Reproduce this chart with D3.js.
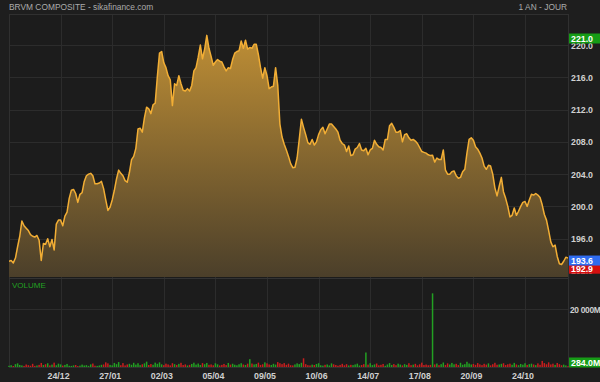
<!DOCTYPE html>
<html><head><meta charset="utf-8">
<script src="https://cdn.jsdelivr.net/npm/d3@7"></script>
<style>
html,body{margin:0;padding:0;background:#1e1e1e;}
svg{display:block;font-family:"Liberation Sans",Arial,sans-serif;}
</style></head>
<body>
<svg id="c" width="600" height="382"></svg>
<script>
const title = "BRVM COMPOSITE - sikafinance.com";
const period = "1 AN - JOUR";
const priceTicks = [192, 196, 200, 204, 208, 212, 216, 220];
const volumeTicks = [20000];
const dateTickIndex = [24, 48, 72, 96, 120, 144, 168, 192, 216, 240];
const dateTickLabels = ["24/12","27/01","02/03","05/04","09/05","10/06","14/07","17/08","20/09","24/10"];
const maxLabel = 221.0;
const lastLabel = 193.6;
const prevLabel = 192.9;
const lastVolumeLabel = "284.0M";

const price = [
193.2,193.3,193.0,193.6,195.0,196.3,198.2,197.6,197.3,197.0,
196.5,196.3,196.2,196.4,195.8,193.3,195.4,195.3,196.0,195.0,
195.9,194.6,197.8,198.3,198.3,197.6,198.8,199.3,201.0,202.0,
202.1,201.6,200.5,201.5,201.7,203.1,203.8,204.0,204.1,203.8,
202.8,202.8,202.9,203.1,202.2,200.8,199.5,199.9,200.8,202.0,
203.4,204.5,204.1,203.8,203.2,203.0,204.2,205.8,206.2,207.2,
209.6,209.7,209.2,211.0,212.3,212.1,211.5,212.6,212.8,216.1,
219.0,219.2,217.8,217.2,216.2,215.7,212.5,215.2,215.0,216.2,
215.2,214.4,214.3,214.6,214.3,215.0,216.8,217.2,218.5,220.0,
218.3,219.5,221.2,219.6,218.6,217.5,217.9,218.2,218.0,217.9,
217.3,216.8,217.2,217.1,218.2,219.0,219.2,219.3,220.5,219.6,
220.6,219.5,219.7,219.6,220.1,220.1,218.8,217.2,215.9,217.2,
216.2,214.6,214.8,214.9,217.2,215.0,210.2,208.6,207.7,207.0,
206.2,205.3,204.8,204.85,206.0,208.3,210.8,209.8,208.9,207.9,
207.7,208.3,207.6,208.0,208.9,209.5,209.8,209.0,209.6,210.2,
210.2,209.9,209.6,209.2,208.2,207.8,207.6,206.8,207.5,206.3,
206.4,207.1,207.3,207.8,207.0,206.9,207.2,206.4,207.0,207.2,
208.2,207.7,207.4,207.3,207.0,208.3,208.3,210.0,210.3,209.8,
209.2,209.2,209.4,208.0,208.9,209.0,208.5,208.2,208.3,208.1,
207.8,207.3,206.8,206.7,206.6,206.4,206.3,206.35,205.5,206.0,
205.8,205.8,207.0,204.5,204.0,204.0,204.3,204.4,203.8,203.5,
203.6,204.3,204.6,206.6,208.3,208.5,208.2,207.4,207.1,206.6,
206.0,205.0,204.6,205.1,205.0,204.0,202.3,201.3,202.5,203.6,
201.8,201.0,200.0,198.7,198.9,199.8,198.9,199.4,200.0,200.5,
200.6,200.0,200.8,201.5,201.4,201.6,201.4,201.1,200.2,199.0,
198.3,197.0,195.6,195.0,195.2,193.8,192.9,192.8,193.2,193.7,
193.6];

const volume = [
420,610,350,980,1250,700,540,380,860,620,450,1100,390,520,740,1400,680,950,1300,560,
820,1500,600,1150,900,480,720,1050,430,380,560,690,310,470,820,520,640,380,900,1200,
450,380,520,760,880,1600,1250,730,560,1400,980,1700,620,1350,540,880,1100,760,1450,820,
1300,650,940,1250,1850,690,1020,780,1500,1100,1600,920,640,1150,880,560,1320,980,720,1080,
1450,680,890,520,740,1050,1480,830,1200,690,1350,960,1400,760,880,600,1280,920,540,730,
1050,660,1400,820,1120,780,580,940,1300,860,700,1150,2700,1200,880,1050,1500,720,940,1600,
1250,880,700,1100,820,1700,1300,980,1350,760,1150,620,540,880,1250,1000,1450,3000,980,620,
540,820,700,1050,1300,600,480,760,880,540,1250,920,680,450,720,1100,600,980,520,750,
640,880,1150,520,700,960,5000,820,1300,640,900,1200,580,760,1050,420,880,1350,700,1000,
620,1150,840,560,980,720,1300,640,800,1100,560,920,1500,680,840,600,740,25400,880,1200,
640,980,1550,700,1250,860,1400,920,1100,660,1450,780,980,1800,1200,880,1050,740,1350,900,
640,1100,820,1250,580,960,1450,780,880,1100,1300,680,940,1150,760,1420,880,620,1050,800,
1300,720,980,1150,880,640,1250,760,2100,1350,940,1600,880,1150,720,1400,980,600,820,540,284];

const svg = d3.select("#c");
const L = 9, R = 568, PT = 14, PB = 277, VT = 279, VB = 367;

const x = d3.scaleLinear().domain([0, price.length - 1]).range([L, R]);
const y = d3.scaleLinear().domain([191.25, 223.85]).range([PB, PT]);
const yv = d3.scaleLinear().domain([0, 20000]).range([VB, 309]);

svg.append("rect").attr("width",600).attr("height",382).attr("fill","#1e1e1e");
svg.append("rect").attr("x",L).attr("y",PT).attr("width",R-L).attr("height",VB-PT).attr("fill","#1c1c1c");

const g = svg.append("g");
g.selectAll(".vg").data(dateTickIndex).join("line")
  .attr("x1",d=>Math.round(x(d))+0.5).attr("x2",d=>Math.round(x(d))+0.5)
  .attr("y1",PT).attr("y2",VB).attr("stroke","#2c2c2c").attr("stroke-width",1);
g.selectAll(".hg").data(priceTicks).join("line")
  .attr("x1",L).attr("x2",R).attr("y1",d=>Math.round(y(d))+0.5).attr("y2",d=>Math.round(y(d))+0.5)
  .attr("stroke","#2c2c2c");
g.selectAll(".vhg").data(volumeTicks).join("line")
  .attr("x1",L).attr("x2",R).attr("y1",d=>Math.round(yv(d))+0.5).attr("y2",d=>Math.round(yv(d))+0.5)
  .attr("stroke","#2c2c2c");

svg.append("rect").attr("x",L+0.5).attr("y",PT+0.5).attr("width",R-L).attr("height",VB-PT)
  .attr("fill","none").attr("stroke","#303030");
svg.append("line").attr("x1",L).attr("x2",R).attr("y1",VT-0.5).attr("y2",VT-0.5).attr("stroke","#333");

const defs = svg.append("defs");
const grad = defs.append("linearGradient").attr("id","ag")
  .attr("gradientUnits","userSpaceOnUse").attr("x1",0).attr("x2",0).attr("y1",y(221.2)).attr("y2",PB);
grad.append("stop").attr("offset","0%").attr("stop-color","#be8e35");
grad.append("stop").attr("offset","100%").attr("stop-color","#4b3f2a");

const clip = defs.append("clipPath").attr("id","pc");
clip.append("rect").attr("x",L).attr("y",PT).attr("width",R-L).attr("height",PB-PT);

const area = d3.area().x((d,i)=>x(i)).y0(PB).y1(d=>y(d));
const line = d3.line().x((d,i)=>x(i)).y(d=>y(d));
const pg = svg.append("g").attr("clip-path","url(#pc)");
pg.append("path").datum(price).attr("d",area).attr("fill","url(#ag)");
pg.append("path").datum(price).attr("d",line).attr("fill","none").attr("stroke","#f2ae35").attr("stroke-width",1.5).attr("stroke-linejoin","round");

svg.append("g").selectAll("rect").data(volume).join("rect")
  .attr("x",(d,i)=>x(i)-0.75).attr("width",1.5)
  .attr("y",d=>yv(d)).attr("height",d=>VB-yv(d))
  .attr("fill",(d,i)=> i>0 && price[i] < price[i-1] ? "#c81e1e" : "#22a022");

svg.append("text").attr("x",9).attr("y",10).attr("fill","#ababab").attr("font-size",8.4).text(title);
svg.append("text").attr("x",567).attr("y",10).attr("text-anchor","end").attr("fill","#ababab").attr("font-size",8.4).text(period);
svg.append("text").attr("x",12).attr("y",288).attr("fill","#22a022").attr("font-size",8).text("VOLUME");

const fmt = d3.format(".1f");
svg.append("g").selectAll("text").data(priceTicks).join("text")
  .attr("x",571).attr("y",d=>y(d)+3.5).attr("fill","#d0d0d0").attr("font-size",8.8).attr("font-weight","bold").text(d=>fmt(d));
svg.append("g").selectAll("text").data(volumeTicks).join("text")
  .attr("x",570).attr("y",d=>yv(d)+3.5).attr("fill","#d0d0d0").attr("font-size",8.4).attr("font-weight","bold")
  .attr("letter-spacing",-0.3)
  .text(d=>d3.format(",")(d).replace(",", " ")+"M");

svg.append("g").selectAll("text").data(dateTickIndex).join("text")
  .attr("x",d=>x(d)-2).attr("y",379).attr("text-anchor","middle").attr("fill","#d0d0d0")
  .attr("font-size",8.8).attr("font-weight","bold").text((d,i)=>dateTickLabels[i]);

function tag(cy, txt, color){
  const gg = svg.append("g");
  gg.append("rect").attr("x",569).attr("y",cy-5).attr("width",31).attr("height",10).attr("fill",color);
  gg.append("text").attr("x",571).attr("y",cy+3.3).attr("fill","#fff").attr("font-size",8.8).attr("font-weight","bold").text(txt);
}
tag(y(maxLabel)+1.5, fmt(maxLabel), "#169c16");
tag(y(prevLabel)+5, fmt(prevLabel), "#d40f0f");
tag(y(lastLabel)+2.5, fmt(lastLabel), "#2f6cf0");
tag(yv(0)-4.5, lastVolumeLabel, "#169c16");
</script>
</body></html>
